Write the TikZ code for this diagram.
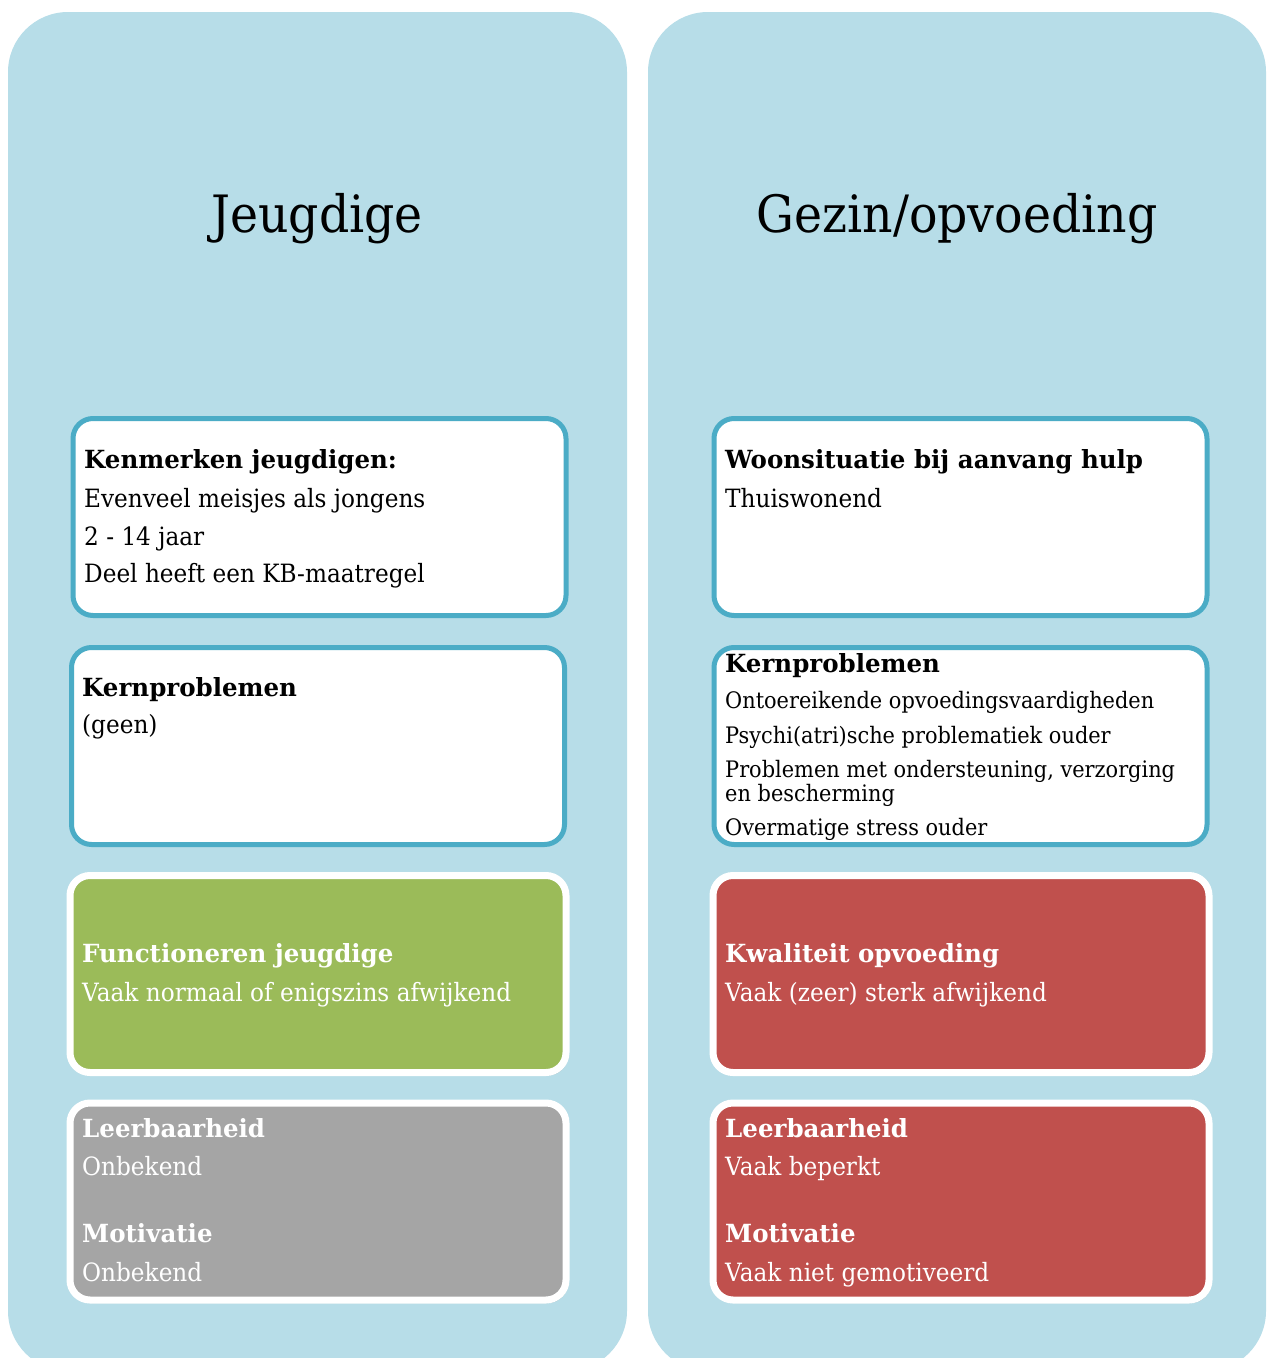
\documentclass[tikz,border=0pt]{standalone}
\usepackage{fontspec}
\setmainfont{DejaVu Serif}[FakeStretch=0.92]
\newfontfamily\boldserif{DejaVu Serif Bold}[FakeStretch=0.98]
\usetikzlibrary{shadows}
\definecolor{panelblue}{HTML}{B7DDE8}
\definecolor{boxline}{HTML}{4BACC6}
\definecolor{okgreen}{HTML}{9BBB59}
\definecolor{unkgray}{HTML}{A5A5A5}
\definecolor{badred}{HTML}{C0504D}
\tikzset{
  panel/.style={fill=panelblue, draw=none, rounded corners=60pt},
  bluebox/.style={draw=boxline, fill=white, line width=5pt, rounded corners=20pt,
    anchor=north west, inner sep=0pt, outer sep=0pt, minimum width=493pt, minimum height=197pt},
  colbox/.style={draw=white, line width=7pt, rounded corners=20pt,
    anchor=north west, inner sep=0pt, outer sep=0pt, minimum width=496pt, minimum height=197pt,
    drop shadow={shadow xshift=2pt, shadow yshift=-3pt, opacity=0.3, fill=black!70}},
  titletext/.style={font=\fontsize{51.5}{60}\selectfont, anchor=base, inner sep=0pt},
  hd/.style={font=\fontsize{25}{28}\boldserif, anchor=base west, inner sep=0pt},
  tx/.style={font=\fontsize{25.2}{28}\selectfont, anchor=base west, inner sep=0pt},
  sm/.style={font=\fontsize{22.7}{24}\selectfont, anchor=base west, inner sep=0pt},
  wh/.style={text=white}
}
\begin{document}
\begin{tikzpicture}[x=1pt,y=-1pt]
\useasboundingbox (0,0) rectangle (1271,1358);
\clip (0,0) rectangle (1271,1358);
% panels
\path[panel] (8,12) rectangle (627,1371);
\path[panel] (648,12) rectangle (1266,1371);
% titles
\node[titletext] (tl) at (317,232) {Jeugdige};
\node[titletext] (tr) at (957,232) {Gezin/opvoeding};
% left column
\node[bluebox] (l1) at (73,418.5) {};
\node[hd] (l1a) at (84,468) {Kenmerken jeugdigen:};
\node[tx] (l1b) at (84,507) {Evenveel meisjes als jongens};
\node[tx] (l1c) at (84,545) {2 - 14 jaar};
\node[tx] (l1d) at (84,582) {Deel heeft een KB-maatregel};

\node[bluebox] (l2) at (71.5,647.5) {};
\node[hd] (l2a) at (82,696) {Kernproblemen};
\node[tx] (l2b) at (82,733) {(geen)};

\node[colbox, fill=okgreen] (l3) at (70,875.5) {};
\node[hd, wh] (l3a) at (82,962) {Functioneren jeugdige};
\node[tx, wh] (l3b) at (82,1001) {Vaak normaal of enigszins afwijkend};

\node[colbox, fill=unkgray] (l4) at (70,1103) {};
\node[hd, wh] (l4a) at (82,1137) {Leerbaarheid};
\node[tx, wh] (l4b) at (82,1175) {Onbekend};
\node[hd, wh] (l4c) at (82,1242) {Motivatie};
\node[tx, wh] (l4d) at (82,1281) {Onbekend};

% right column
\node[bluebox] (r1) at (714,418.5) {};
\node[hd] (r1a) at (725,468) {Woonsituatie bij aanvang hulp};
\node[tx] (r1b) at (725,507) {Thuiswonend};

\node[bluebox] (r2) at (714,647.5) {};
\node[hd] (r2a) at (725,672) {Kernproblemen};
\node[sm] (r2b) at (725,708) {Ontoereikende opvoedingsvaardigheden};
\node[sm] (r2c) at (725,743) {Psychi(atri)sche problematiek ouder};
\node[sm] (r2d) at (725,777) {Problemen met ondersteuning, verzorging};
\node[sm] (r2e) at (725,801) {en bescherming};
\node[sm] (r2f) at (725,835) {Overmatige stress ouder};

\node[colbox, fill=badred] (r3) at (713,875.5) {};
\node[hd, wh] (r3a) at (725,962) {Kwaliteit opvoeding};
\node[tx, wh] (r3b) at (725,1001) {Vaak (zeer) sterk afwijkend};

\node[colbox, fill=badred] (r4) at (713,1103) {};
\node[hd, wh] (r4a) at (725,1137) {Leerbaarheid};
\node[tx, wh] (r4b) at (725,1175) {Vaak beperkt};
\node[hd, wh] (r4c) at (725,1242) {Motivatie};
\node[tx, wh] (r4d) at (725,1281) {Vaak niet gemotiveerd};
\end{tikzpicture}
\end{document}
